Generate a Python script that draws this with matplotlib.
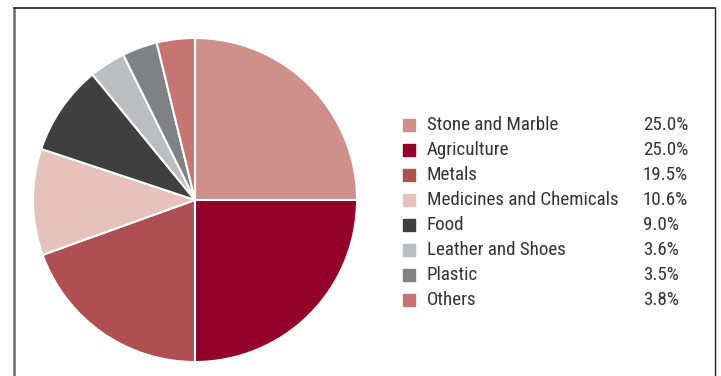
import matplotlib
matplotlib.use('Agg')
import matplotlib.pyplot as plt
from matplotlib import font_manager

categories = ['Stone and Marble', 'Agriculture', 'Metals', 'Medicines and Chemicals',
              'Food', 'Leather and Shoes', 'Plastic', 'Others']
shares = [25.0, 25.0, 19.5, 10.6, 9.0, 3.6, 3.5, 3.8]
colors = ['#cf8f8a', '#93002a', '#b04f51', '#e6c2bb', '#3f3f3f', '#bcbdc0', '#808184', '#c57572']

# condensed face like the original, if there is one
installed = set(f.name for f in font_manager.fontManager.ttflist)
font = 'DejaVu Sans'
for cand in ['Roboto Condensed', 'Liberation Sans Narrow', 'Archivo Narrow', 'PT Sans Narrow']:
    if cand in installed:
        font = cand
        break
plt.rcParams['font.family'] = [font, 'DejaVu Sans']

W, H = 721, 376
fig = plt.figure(figsize=(W / 100, H / 100), dpi=100)

# pie, center ~(195,200) px, radius ~162 px
r = 162
ax = fig.add_axes([(195 - r) / W, (H - 200 - r) / H, 2 * r / W, 2 * r / H])
ax.pie(shares, colors=colors, startangle=90, counterclock=False, radius=1,
       wedgeprops=dict(edgecolor='white', linewidth=1.5))
ax.set_xlim(-1, 1)
ax.set_ylim(-1, 1)
ax.set_aspect('equal')
ax.axis('off')

# pick font size so "Stone and Marble" is about 131 px wide
renderer = fig.canvas.get_renderer()
t = fig.text(0, 0, categories[0], fontsize=12)
w = t.get_window_extent(renderer).width
t.remove()
fs = 12 * 131 / w

for i, (name, val, c) in enumerate(zip(categories, shares, colors)):
    y = H - 125 - i * 25
    fig.patches.append(plt.Rectangle((403 / W, (y - 6) / H), 12 / W, 12 / H,
                                     transform=fig.transFigure, color=c))
    fig.text(427 / W, y / H, name, fontsize=fs, color='#333333', va='center')
    fig.text(643 / W, y / H, '%.1f%%' % val, fontsize=fs, color='#333333', va='center')

# frame lines
fig.add_artist(plt.Line2D([14 / W, 14 / W], [0, 1 - 8 / H], color='#6b6b6b', lw=1.8,
                          transform=fig.transFigure))
fig.add_artist(plt.Line2D([14 / W, 715 / W], [1 - 8 / H, 1 - 8 / H], color='#222222', lw=1.2,
                          transform=fig.transFigure))
fig.add_artist(plt.Line2D([715 / W, 715 / W], [0, 1 - 8 / H], color='#222222', lw=1,
                          transform=fig.transFigure))

fig.savefig('out.png', dpi=100)
